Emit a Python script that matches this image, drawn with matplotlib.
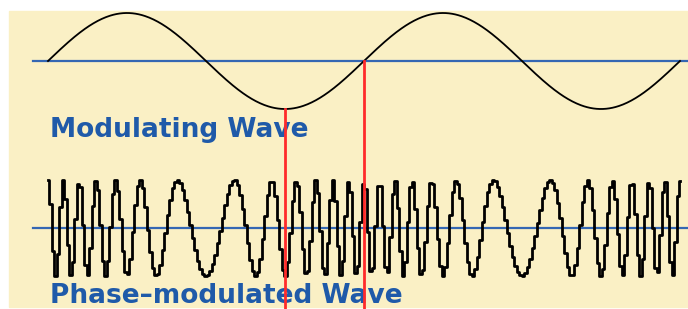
import numpy as np
import matplotlib.pyplot as plt
from matplotlib.patches import Rectangle

# wave parameters (pixel units)
wave_start = 48
wave_end = 680
mod_cycles = 2          # two full cycles of the modulating wave
carrier_cycles = 26     # carrier cycles across the panel (27 peaks)
phase_dev = 7.85        # peak phase deviation (rad)
amplitude = 48
mod_center = 61
pm_center = 228
red_marks = [0.75, 1.0]     # positions in modulating cycles (trough, rising zero)
labels = ["Modulating Wave", "Phase\u2013modulated Wave"]

bg_yellow = "#faf0c5"
axis_blue = "#3467b3"
text_blue = "#1f5aa9"
red = "#ff2b2b"

fig = plt.figure(figsize=(6.88, 3.09), dpi=100)
ax = fig.add_axes([0, 0, 1, 1])
ax.set_xlim(0, 688)
ax.set_ylim(309, 0)
ax.axis("off")

# yellow panel
ax.add_patch(Rectangle((9, 11), 679, 296, color=bg_yellow, zorder=0))

span = wave_end - wave_start
t = np.linspace(0, 1, 600)
x = wave_start + t * span
mod = np.sin(2 * np.pi * mod_cycles * t)
ax.plot(x, mod_center - amplitude * mod, color="black", lw=1.3, zorder=3)

# phase modulated carrier, drawn pixel-stepped like the original
ts = np.arange(0, span + 1, 2.5) / span
xs = wave_start + ts * span
pm = np.cos(2 * np.pi * carrier_cycles * ts + phase_dev * np.sin(2 * np.pi * mod_cycles * ts))
ys = np.round(pm_center - amplitude * pm)
ax.plot(xs, ys, color="black", lw=2.0, drawstyle="steps-mid", zorder=3)

# zero lines
ax.plot([33, 688], [mod_center, mod_center], color=axis_blue, lw=1.6, zorder=2)
ax.plot([33, 688], [pm_center, pm_center], color=axis_blue, lw=1.6, zorder=2)

# red marker lines
for m in red_marks:
    xm = wave_start + m / mod_cycles * span
    ym = mod_center - amplitude * np.sin(2 * np.pi * m)
    ax.plot([xm, xm], [ym, 309], color=red, lw=2.0, zorder=4)

ax.text(50, 137, labels[0], color=text_blue, fontsize=19, fontweight="bold",
        family="DejaVu Sans", va="baseline", zorder=3)
ax.text(50, 303, labels[1], color=text_blue, fontsize=19, fontweight="bold",
        family="DejaVu Sans", va="baseline", zorder=3)

fig.savefig("out.png", dpi=100)
